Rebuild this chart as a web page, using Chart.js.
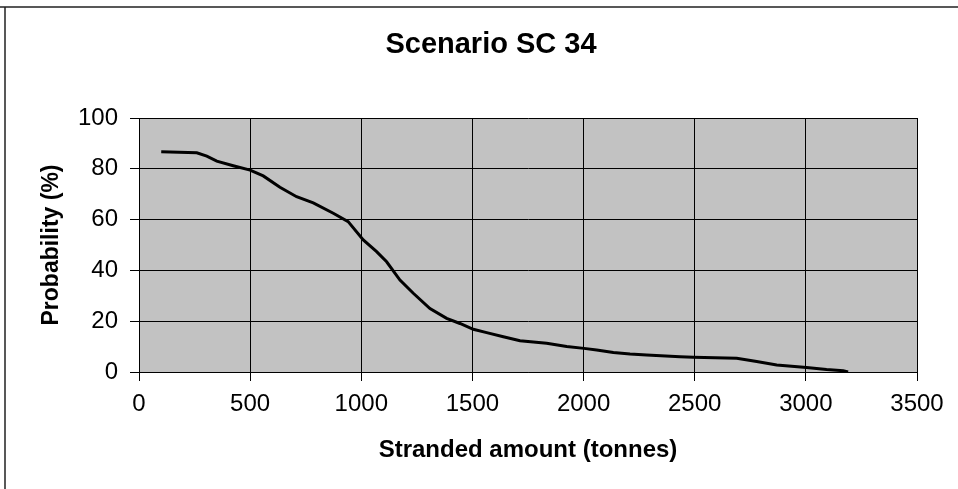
<!DOCTYPE html>
<html>
<head>
<meta charset="utf-8">
<script src="https://cdn.jsdelivr.net/npm/chart.js@4/dist/chart.umd.min.js"></script>
<style>
    html, body { margin: 0; padding: 0; background: #fff; }
    #wrap { width: 958px; height: 489px; position: relative; }
</style>
</head>
<body>
<div id="wrap"><canvas id="myChart" width="958" height="489"></canvas></div>
<script>
// values
var amounts = [100, 260, 305, 350, 424, 500, 559, 634, 709, 784, 874, 941, 1009, 1069, 1114, 1174,
               1234, 1309, 1384, 1444, 1504, 1564, 1639, 1714, 1834, 1924, 2002, 2059, 2134, 2209,
               2284, 2434, 2494, 2689, 2779, 2869, 3003, 3093, 3168, 3190];
var probability = [86.7, 86.3, 85, 83, 81.2, 79.5, 77.2, 72.7, 69, 66.6, 62.5, 59.2, 52, 47.4, 43.4, 36.2,
                   31, 25, 21.1, 19.1, 16.8, 15.5, 13.9, 12.3, 11.3, 10, 9.3, 8.7, 7.7, 7.1,
                   6.7, 6.0, 5.8, 5.4, 4.1, 2.8, 1.8, 1.0, 0.5, 0];
var xTicks = [0, 500, 1000, 1500, 2000, 2500, 3000, 3500];
var yTicks = [0, 20, 40, 60, 80, 100];
var chartTitle = 'Scenario SC 34';

var font = "'Liberation Sans', Arial, sans-serif";

var points = [];
for (var i = 0; i < amounts.length; ++i) {
    points.push({ x: amounts[i], y: probability[i] });
}

// grey plot area, the partial frame round the chart, and the title
var backdrop = {
    id: 'backdrop',
    beforeDraw: function(chart) {
        var c = chart.ctx, a = chart.chartArea;
        c.save();
        c.fillStyle = '#c2c2c2';
        c.fillRect(a.left, a.top, a.right - a.left, a.bottom - a.top);
        c.strokeStyle = '#222';
        c.lineWidth = 1.5;
        c.beginPath();
        c.moveTo(0, 7);
        c.lineTo(958, 7);
        c.moveTo(5, 7);
        c.lineTo(5, 489);
        c.stroke();
        c.restore();
    },
    afterDraw: function(chart) {
        var c = chart.ctx;
        c.save();
        c.fillStyle = '#000';
        c.font = 'bold 29px ' + font;
        c.textAlign = 'center';
        c.textBaseline = 'middle';
        c.fillText(chartTitle, 491, 45);
        c.restore();
    }
};

var ctx = document.getElementById('myChart');
var myLineChart = new Chart(ctx, {
    type: 'line',
    data: {
        datasets: [{
            label: chartTitle,
            data: points,
            borderColor: '#000',
            borderWidth: 3,
            pointRadius: 0,
            tension: 0,
            fill: false
        }]
    },
    options: {
        responsive: false,
        animation: false,
        events: [],
        layout: { padding: { left: 0, right: 41, top: 118, bottom: 0 } },
        plugins: {
            legend: { display: false },
            tooltip: { enabled: false },
            title: { display: false }
        },
        scales: {
            x: {
                type: 'linear',
                min: 0,
                max: 3500,
                afterBuildTicks: function(s) { s.ticks = xTicks.map(function(v) { return { value: v }; }); },
                afterFit: function(s) { s.height = 117; },
                grid: { color: '#000', lineWidth: 1, tickLength: 9 },
                border: { color: '#000', width: 1 },
                ticks: {
                    color: '#000',
                    font: { family: font, size: 24 },
                    padding: 9,
                    maxRotation: 0,
                    callback: function(v) { return String(v); }
                },
                title: {
                    display: true,
                    text: 'Stranded amount (tonnes)',
                    color: '#000',
                    font: { family: font, size: 24, weight: 'bold' },
                    padding: { top: 0, bottom: 24 }
                }
            },
            y: {
                min: 0,
                max: 100,
                afterBuildTicks: function(s) { s.ticks = yTicks.map(function(v) { return { value: v }; }); },
                afterFit: function(s) { s.width = 139; },
                grid: { color: '#000', lineWidth: 1, tickLength: 9 },
                border: { color: '#000', width: 1 },
                ticks: {
                    color: '#000',
                    font: { family: font, size: 24 },
                    padding: 12,
                    callback: function(v) { return String(v); }
                },
                title: {
                    display: true,
                    text: 'Probability (%)',
                    color: '#000',
                    font: { family: font, size: 23, weight: 'bold' },
                    padding: { top: 38, bottom: 0 }
                }
            }
        }
    },
    plugins: [backdrop]
});
</script>
</body>
</html>
